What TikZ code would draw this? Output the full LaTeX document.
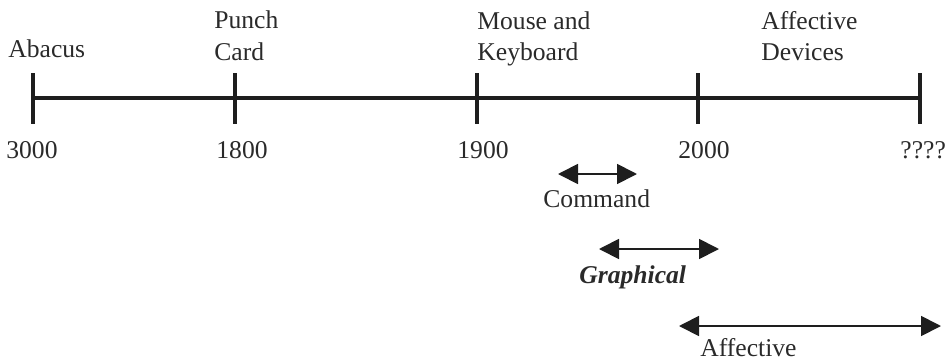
\documentclass[tikz,border=0pt]{standalone}
\usepackage{fontspec}
\setmainfont{Liberation Serif}
\usetikzlibrary{arrows.meta}
\definecolor{ink}{HTML}{1E1E1E}
\definecolor{txt}{HTML}{2A2A2A}
\begin{document}
\begin{tikzpicture}[x=0.5pt,y=-0.5pt,
  lbl/.style={inner sep=0pt,anchor=base west,text=txt,font=\fontsize{12.8}{16}\selectfont},
  axis/.style={draw=ink,line width=2pt},
  tick/.style={draw=ink,line width=1.6pt},
  span/.style={draw=ink,line width=0.9pt,{Triangle[length=10pt,width=10pt]}-{Triangle[length=10pt,width=10pt]}}]
\useasboundingbox (0,0) rectangle (949,360);
% ticks
\coordinate (t1) at (33,98); \coordinate (t2) at (235,98); \coordinate (t3) at (477,98);
\coordinate (t4) at (698,98); \coordinate (t5) at (920,98);
\draw[axis] (t1) -- (t5);
\foreach \t in {t1,t2,t3,t4,t5}{
  \draw[tick] ([yshift=12.5pt]\t) -- ([yshift=-13pt]\t);
}
% top labels
\node[lbl] (abacus) at (8,57) {Abacus};
\node[lbl] (punch) at (214,28) {Punch};
\node[lbl] (card) at (214,60) {Card};
\node[lbl] (mouse) at (477,29) {Mouse and};
\node[lbl] (keyb) at (477,60) {Keyboard};
\node[lbl] (affd) at (761,29) {Affective};
\node[lbl] (devs) at (761,60) {Devices};
% years
\node[lbl] (y1) at (6,158) {3000};
\node[lbl] (y2) at (216,158) {1800};
\node[lbl] (y3) at (457,158) {1900};
\node[lbl] (y4) at (678,158) {2000};
\node[lbl] (y5) at (900,158) {????};
% spans
\coordinate (c1) at (558,174); \coordinate (c2) at (637,174);
\draw[span] (c1) -- (c2);
\node[lbl] (cmd) at (543,207) {Command};
\coordinate (g1) at (599,249); \coordinate (g2) at (719,249);
\draw[span] (g1) -- (g2);
\node[lbl,font=\fontsize{12.8}{16}\selectfont\bfseries\itshape] (gra) at (579,283) {Graphical};
\coordinate (a1) at (679,326); \coordinate (a2) at (941,326);
\draw[span] (a1) -- (a2);
\node[lbl] (aff) at (700,356) {Affective};
\end{tikzpicture}
\end{document}
